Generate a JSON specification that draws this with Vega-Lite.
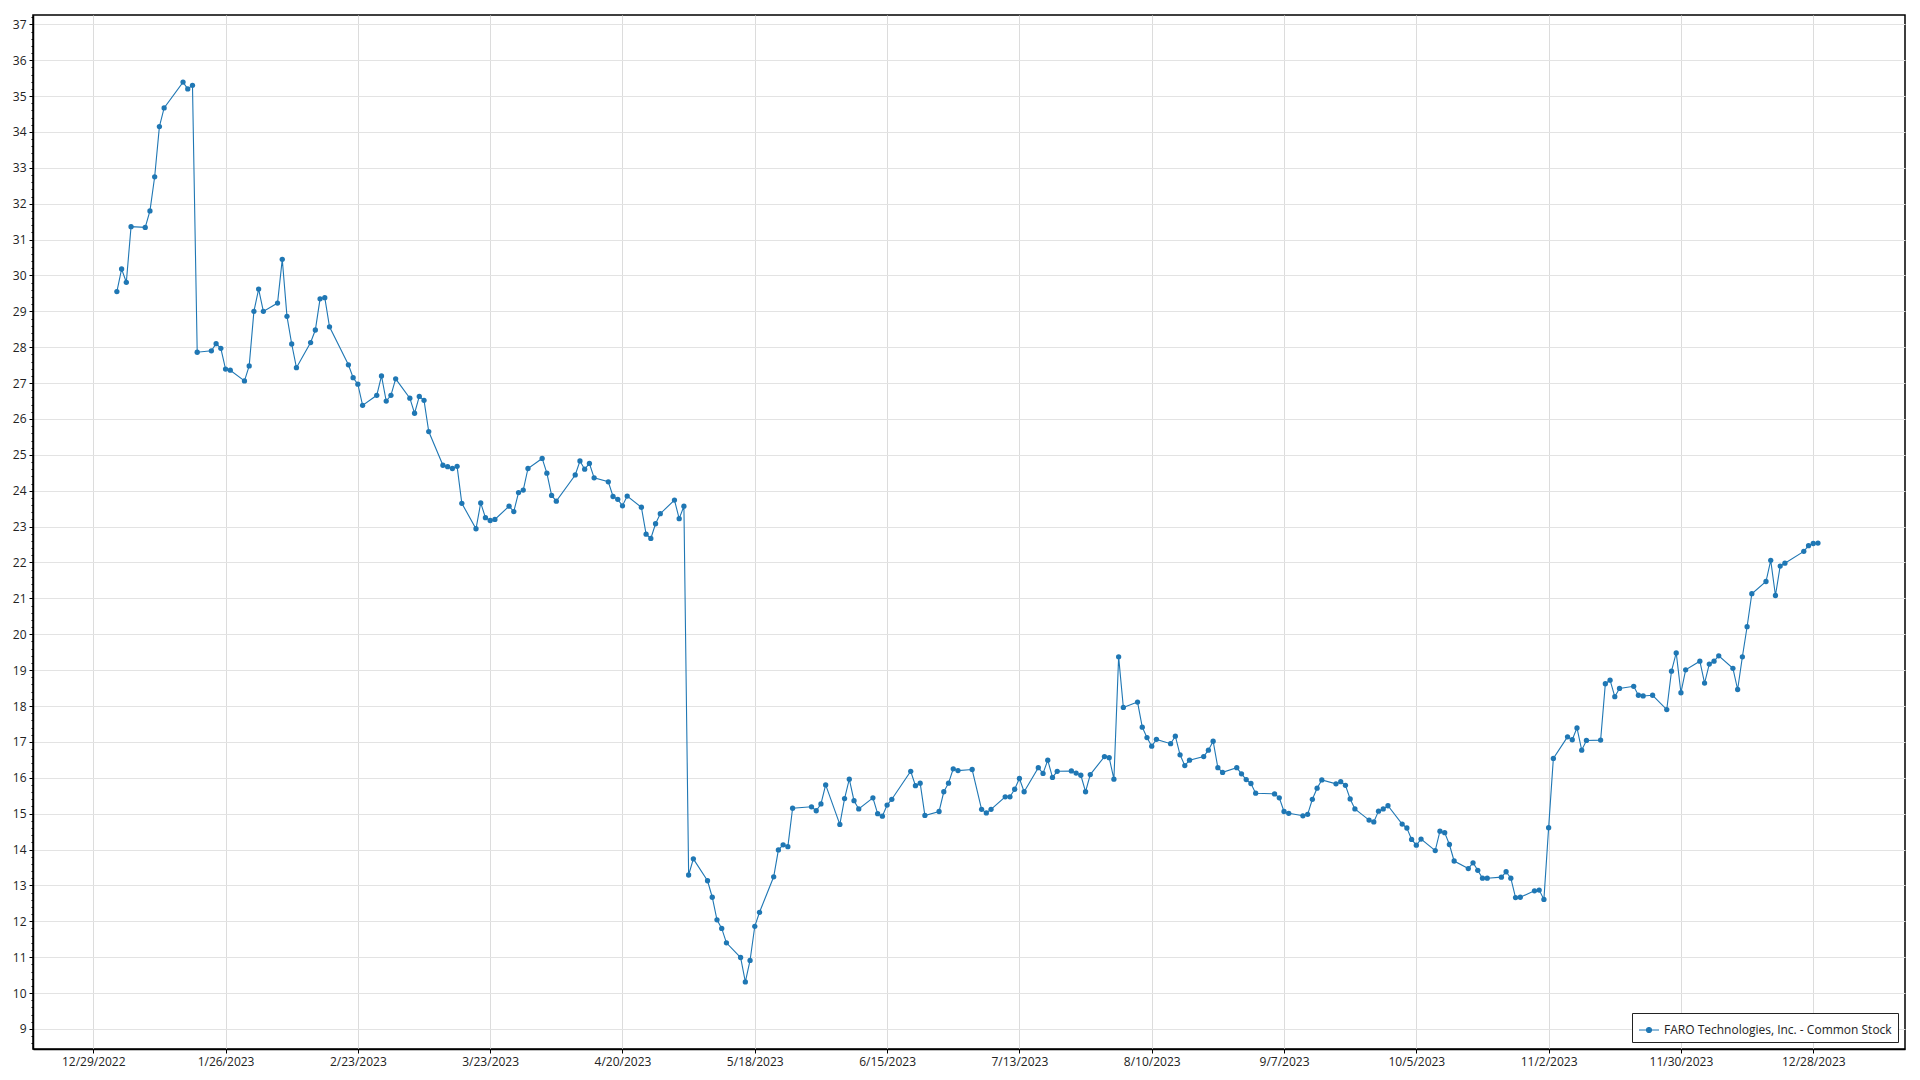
{
  "$schema": "https://vega.github.io/schema/vega-lite/v6.json",
  "width": 1872,
  "height": 1034,
  "autosize": {"type": "none"},
  "padding": {"left": 33, "top": 15, "right": 15, "bottom": 31},
  "background": "white",
  "config": {
    "view": {"stroke": "#000", "strokeWidth": 1.5},
    "font": "Open Sans",
    "axis": {"labelFont": "Open Sans", "labelFontSize": 12, "labelColor": "#222", "tickColor": "#000", "domainColor": "#000", "domainWidth": 1.5, "tickSize": 4, "labelPadding": 3, "title": null}
  },
  "data": {
    "format": {"parse": {"date": "date:'%Y-%m-%d'"}},
    "values": [
      {"date":"2023-01-03","close":29.55},{"date":"2023-01-04","close":30.18},{"date":"2023-01-05","close":29.81},{"date":"2023-01-06","close":31.36},
      {"date":"2023-01-09","close":31.34},{"date":"2023-01-10","close":31.80},{"date":"2023-01-11","close":32.75},{"date":"2023-01-12","close":34.15},{"date":"2023-01-13","close":34.67},
      {"date":"2023-01-17","close":35.39},{"date":"2023-01-18","close":35.20},{"date":"2023-01-19","close":35.30},{"date":"2023-01-20","close":27.86},
      {"date":"2023-01-23","close":27.90},{"date":"2023-01-24","close":28.10},{"date":"2023-01-25","close":27.97},{"date":"2023-01-26","close":27.39},{"date":"2023-01-27","close":27.36},
      {"date":"2023-01-30","close":27.06},{"date":"2023-01-31","close":27.48},{"date":"2023-02-01","close":29.00},{"date":"2023-02-02","close":29.62},{"date":"2023-02-03","close":29.00},
      {"date":"2023-02-06","close":29.23},{"date":"2023-02-07","close":30.45},{"date":"2023-02-08","close":28.86},{"date":"2023-02-09","close":28.09},{"date":"2023-02-10","close":27.43},
      {"date":"2023-02-13","close":28.13},{"date":"2023-02-14","close":28.48},{"date":"2023-02-15","close":29.35},{"date":"2023-02-16","close":29.38},{"date":"2023-02-17","close":28.57},
      {"date":"2023-02-21","close":27.51},{"date":"2023-02-22","close":27.15},{"date":"2023-02-23","close":26.97},{"date":"2023-02-24","close":26.38},
      {"date":"2023-02-27","close":26.66},{"date":"2023-02-28","close":27.20},{"date":"2023-03-01","close":26.50},{"date":"2023-03-02","close":26.66},{"date":"2023-03-03","close":27.12},
      {"date":"2023-03-06","close":26.58},{"date":"2023-03-07","close":26.16},{"date":"2023-03-08","close":26.63},{"date":"2023-03-09","close":26.52},{"date":"2023-03-10","close":25.65},
      {"date":"2023-03-13","close":24.71},{"date":"2023-03-14","close":24.67},{"date":"2023-03-15","close":24.62},{"date":"2023-03-16","close":24.68},{"date":"2023-03-17","close":23.65},
      {"date":"2023-03-20","close":22.94},{"date":"2023-03-21","close":23.66},{"date":"2023-03-22","close":23.25},{"date":"2023-03-23","close":23.17},{"date":"2023-03-24","close":23.20},
      {"date":"2023-03-27","close":23.57},{"date":"2023-03-28","close":23.42},{"date":"2023-03-29","close":23.95},{"date":"2023-03-30","close":24.02},{"date":"2023-03-31","close":24.62},
      {"date":"2023-04-03","close":24.90},{"date":"2023-04-04","close":24.49},{"date":"2023-04-05","close":23.87},{"date":"2023-04-06","close":23.71},
      {"date":"2023-04-10","close":24.44},{"date":"2023-04-11","close":24.83},{"date":"2023-04-12","close":24.60},{"date":"2023-04-13","close":24.76},{"date":"2023-04-14","close":24.36},
      {"date":"2023-04-17","close":24.25},{"date":"2023-04-18","close":23.84},{"date":"2023-04-19","close":23.76},{"date":"2023-04-20","close":23.58},{"date":"2023-04-21","close":23.85},
      {"date":"2023-04-24","close":23.54},{"date":"2023-04-25","close":22.79},{"date":"2023-04-26","close":22.67},{"date":"2023-04-27","close":23.08},{"date":"2023-04-28","close":23.36},
      {"date":"2023-05-01","close":23.74},{"date":"2023-05-02","close":23.22},{"date":"2023-05-03","close":23.57},{"date":"2023-05-04","close":13.29},{"date":"2023-05-05","close":13.74},
      {"date":"2023-05-08","close":13.13},{"date":"2023-05-09","close":12.67},{"date":"2023-05-10","close":12.04},{"date":"2023-05-11","close":11.80},{"date":"2023-05-12","close":11.40},
      {"date":"2023-05-15","close":10.99},{"date":"2023-05-16","close":10.31},{"date":"2023-05-17","close":10.91},{"date":"2023-05-18","close":11.86},{"date":"2023-05-19","close":12.25},
      {"date":"2023-05-22","close":13.24},{"date":"2023-05-23","close":13.99},{"date":"2023-05-24","close":14.13},{"date":"2023-05-25","close":14.08},{"date":"2023-05-26","close":15.15},
      {"date":"2023-05-30","close":15.19},{"date":"2023-05-31","close":15.08},{"date":"2023-06-01","close":15.27},{"date":"2023-06-02","close":15.80},
      {"date":"2023-06-05","close":14.70},{"date":"2023-06-06","close":15.42},{"date":"2023-06-07","close":15.96},{"date":"2023-06-08","close":15.36},{"date":"2023-06-09","close":15.13},
      {"date":"2023-06-12","close":15.44},{"date":"2023-06-13","close":15.00},{"date":"2023-06-14","close":14.93},{"date":"2023-06-15","close":15.24},{"date":"2023-06-16","close":15.40},
      {"date":"2023-06-20","close":16.18},{"date":"2023-06-21","close":15.78},{"date":"2023-06-22","close":15.85},{"date":"2023-06-23","close":14.95},
      {"date":"2023-06-26","close":15.06},{"date":"2023-06-27","close":15.61},{"date":"2023-06-28","close":15.85},{"date":"2023-06-29","close":16.25},{"date":"2023-06-30","close":16.20},
      {"date":"2023-07-03","close":16.23},{"date":"2023-07-05","close":15.12},{"date":"2023-07-06","close":15.02},{"date":"2023-07-07","close":15.12},
      {"date":"2023-07-10","close":15.47},{"date":"2023-07-11","close":15.47},{"date":"2023-07-12","close":15.68},{"date":"2023-07-13","close":15.98},{"date":"2023-07-14","close":15.61},
      {"date":"2023-07-17","close":16.28},{"date":"2023-07-18","close":16.12},{"date":"2023-07-19","close":16.49},{"date":"2023-07-20","close":16.01},{"date":"2023-07-21","close":16.18},
      {"date":"2023-07-24","close":16.19},{"date":"2023-07-25","close":16.13},{"date":"2023-07-26","close":16.07},{"date":"2023-07-27","close":15.61},{"date":"2023-07-28","close":16.09},
      {"date":"2023-07-31","close":16.59},{"date":"2023-08-01","close":16.56},{"date":"2023-08-02","close":15.96},{"date":"2023-08-03","close":19.37},{"date":"2023-08-04","close":17.96},
      {"date":"2023-08-07","close":18.11},{"date":"2023-08-08","close":17.41},{"date":"2023-08-09","close":17.12},{"date":"2023-08-10","close":16.88},{"date":"2023-08-11","close":17.07},
      {"date":"2023-08-14","close":16.95},{"date":"2023-08-15","close":17.16},{"date":"2023-08-16","close":16.64},{"date":"2023-08-17","close":16.34},{"date":"2023-08-18","close":16.49},
      {"date":"2023-08-21","close":16.59},{"date":"2023-08-22","close":16.77},{"date":"2023-08-23","close":17.02},{"date":"2023-08-24","close":16.28},{"date":"2023-08-25","close":16.15},
      {"date":"2023-08-28","close":16.28},{"date":"2023-08-29","close":16.11},{"date":"2023-08-30","close":15.95},{"date":"2023-08-31","close":15.84},{"date":"2023-09-01","close":15.57},
      {"date":"2023-09-05","close":15.55},{"date":"2023-09-06","close":15.44},{"date":"2023-09-07","close":15.06},{"date":"2023-09-08","close":15.01},
      {"date":"2023-09-11","close":14.94},{"date":"2023-09-12","close":14.98},{"date":"2023-09-13","close":15.40},{"date":"2023-09-14","close":15.71},{"date":"2023-09-15","close":15.94},
      {"date":"2023-09-18","close":15.83},{"date":"2023-09-19","close":15.89},{"date":"2023-09-20","close":15.79},{"date":"2023-09-21","close":15.41},{"date":"2023-09-22","close":15.13},
      {"date":"2023-09-25","close":14.82},{"date":"2023-09-26","close":14.77},{"date":"2023-09-27","close":15.07},{"date":"2023-09-28","close":15.13},{"date":"2023-09-29","close":15.22},
      {"date":"2023-10-02","close":14.71},{"date":"2023-10-03","close":14.60},{"date":"2023-10-04","close":14.28},{"date":"2023-10-05","close":14.12},{"date":"2023-10-06","close":14.29},
      {"date":"2023-10-09","close":13.97},{"date":"2023-10-10","close":14.51},{"date":"2023-10-11","close":14.47},{"date":"2023-10-12","close":14.14},{"date":"2023-10-13","close":13.68},
      {"date":"2023-10-16","close":13.47},{"date":"2023-10-17","close":13.63},{"date":"2023-10-18","close":13.42},{"date":"2023-10-19","close":13.20},{"date":"2023-10-20","close":13.20},
      {"date":"2023-10-23","close":13.23},{"date":"2023-10-24","close":13.38},{"date":"2023-10-25","close":13.20},{"date":"2023-10-26","close":12.66},{"date":"2023-10-27","close":12.67},
      {"date":"2023-10-30","close":12.85},{"date":"2023-10-31","close":12.87},{"date":"2023-11-01","close":12.61},{"date":"2023-11-02","close":14.61},{"date":"2023-11-03","close":16.54},
      {"date":"2023-11-06","close":17.14},{"date":"2023-11-07","close":17.06},{"date":"2023-11-08","close":17.39},{"date":"2023-11-09","close":16.77},{"date":"2023-11-10","close":17.04},
      {"date":"2023-11-13","close":17.05},{"date":"2023-11-14","close":18.62},{"date":"2023-11-15","close":18.72},{"date":"2023-11-16","close":18.26},{"date":"2023-11-17","close":18.49},
      {"date":"2023-11-20","close":18.55},{"date":"2023-11-21","close":18.30},{"date":"2023-11-22","close":18.28},{"date":"2023-11-24","close":18.30},
      {"date":"2023-11-27","close":17.90},{"date":"2023-11-28","close":18.97},{"date":"2023-11-29","close":19.48},{"date":"2023-11-30","close":18.37},{"date":"2023-12-01","close":19.01},
      {"date":"2023-12-04","close":19.25},{"date":"2023-12-05","close":18.64},{"date":"2023-12-06","close":19.17},{"date":"2023-12-07","close":19.25},{"date":"2023-12-08","close":19.40},
      {"date":"2023-12-11","close":19.05},{"date":"2023-12-12","close":18.46},{"date":"2023-12-13","close":19.37},{"date":"2023-12-14","close":20.21},{"date":"2023-12-15","close":21.13},
      {"date":"2023-12-18","close":21.47},{"date":"2023-12-19","close":22.06},{"date":"2023-12-20","close":21.08},{"date":"2023-12-21","close":21.90},{"date":"2023-12-22","close":21.98},
      {"date":"2023-12-26","close":22.31},{"date":"2023-12-27","close":22.47},{"date":"2023-12-28","close":22.53},{"date":"2023-12-29","close":22.54}
    ]
  },
  "transform": [{"calculate": "'FARO Technologies, Inc. - Common Stock'", "as": "series"}],
  "encoding": {
    "x": {
      "field": "date", "type": "temporal",
      "scale": {"domain": [{"year": 2022, "month": 12, "date": 16, "hours": 6}, {"year": 2024, "month": 1, "date": 16, "hours": 10}]},
      "axis": {
        "format": "%-m/%-d/%Y", "grid": true, "gridColor": "#dcdcdc", "labelOverlap": false,
        "values": [
          {"year": 2022, "month": 12, "date": 29}, {"year": 2023, "month": 1, "date": 26}, {"year": 2023, "month": 2, "date": 23},
          {"year": 2023, "month": 3, "date": 23}, {"year": 2023, "month": 4, "date": 20}, {"year": 2023, "month": 5, "date": 18},
          {"year": 2023, "month": 6, "date": 15}, {"year": 2023, "month": 7, "date": 13}, {"year": 2023, "month": 8, "date": 10},
          {"year": 2023, "month": 9, "date": 7}, {"year": 2023, "month": 10, "date": 5}, {"year": 2023, "month": 11, "date": 2},
          {"year": 2023, "month": 11, "date": 30}, {"year": 2023, "month": 12, "date": 28}
        ]
      }
    },
    "color": {
      "field": "series", "type": "nominal",
      "scale": {"range": ["#1f77b4"]},
      "legend": {
        "title": null, "orient": "bottom-right", "offset": 7, "padding": 6,
        "strokeColor": "#222", "fillColor": "white", "labelLimit": 500,
        "labelFont": "Open Sans", "labelFontSize": 12, "labelColor": "#222",
        "symbolType": "M-1,0L1,0M0.25,0A0.25,0.25,0,1,1,-0.25,0A0.25,0.25,0,1,1,0.25,0Z",
        "symbolSize": 400, "symbolStrokeWidth": 1.2,
        "symbolFillColor": "#1f77b4", "symbolStrokeColor": "#1f77b4"
      }
    }
  },
  "resolve": {"axis": {"y": "independent"}},
  "layer": [
    {
      "mark": {"type": "line", "strokeWidth": 1.1},
      "encoding": {
        "y": {
          "field": "close", "type": "quantitative",
          "scale": {"domain": [8.44, 37.26], "nice": false, "zero": false},
          "axis": {"orient": "left", "values": [9,10,11,12,13,14,15,16,17,18,19,20,21,22,23,24,25,26,27,28,29,30,31,32,33,34,35,36,37], "grid": true, "gridColor": "#e3e3e3"}
        }
      }
    },
    {
      "mark": {"type": "point", "filled": true, "size": 28, "opacity": 1},
      "encoding": {
        "y": {
          "field": "close", "type": "quantitative",
          "axis": {"orient": "left", "tickCount": 150, "labels": false, "grid": false, "domain": false, "tickSize": 2, "tickColor": "#000"}
        }
      }
    }
  ]
}
